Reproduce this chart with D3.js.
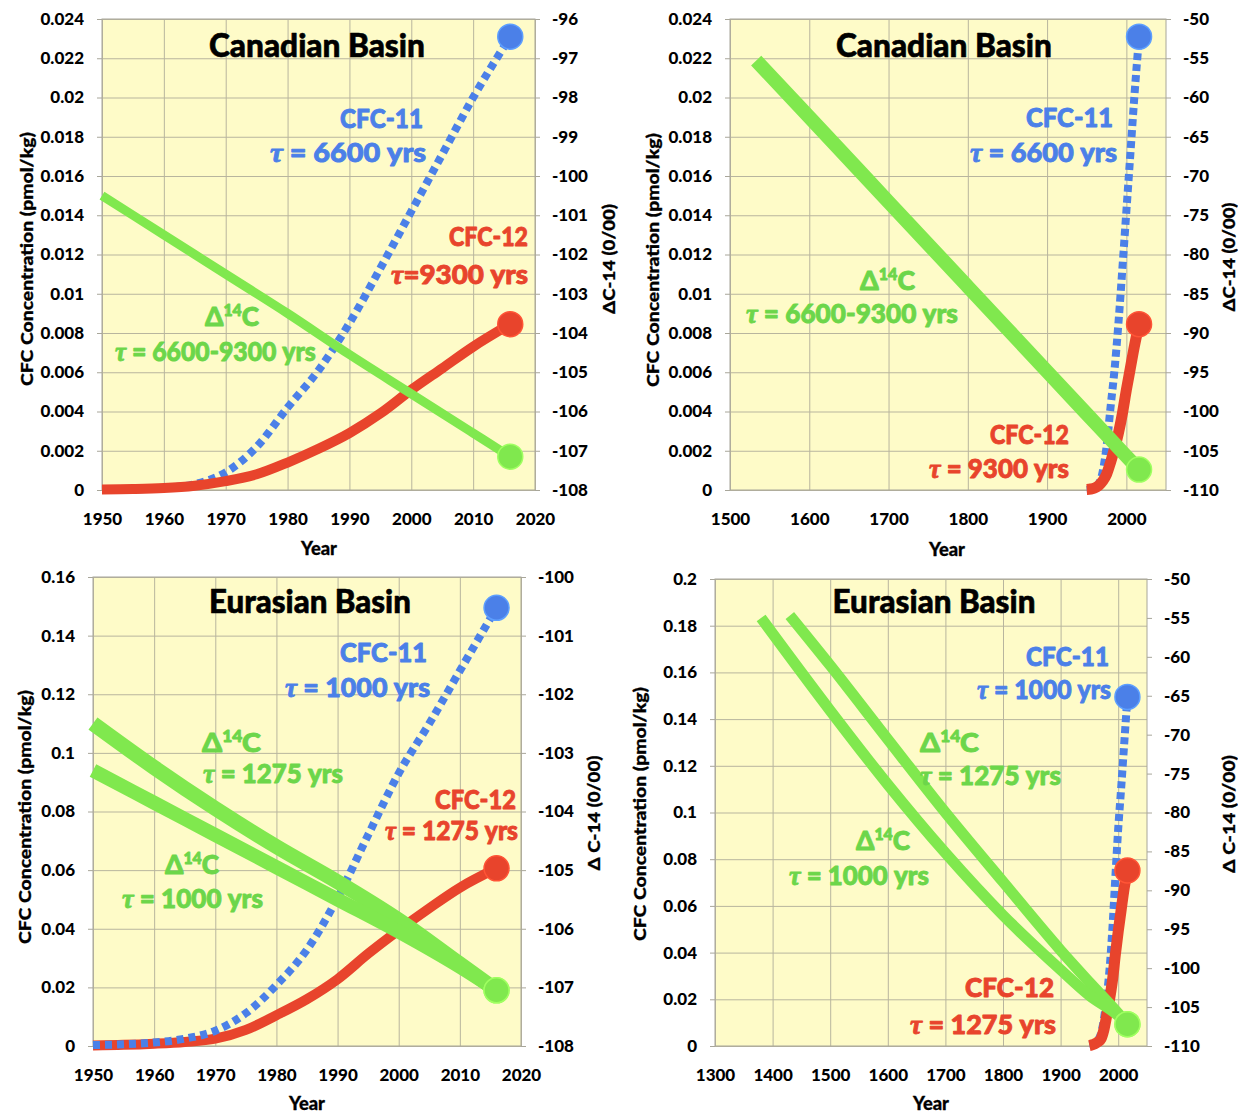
<!DOCTYPE html>
<html>
<head>
<meta charset="utf-8">
<script src="https://cdn.jsdelivr.net/npm/d3@7"></script>
<style>
  body { margin: 0; background: #fff; }
  svg text { font-family: Lato, "Open Sans", "Noto Sans", sans-serif; font-weight: 900; }
</style>
</head>
<body>
<svg id="chart" width="1238" height="1113"></svg>
<script>
// ---- data ----
const cfcYears = [1950, 1955, 1960, 1965, 1970, 1975, 1980, 1985, 1990, 1995, 2000, 2005, 2010, 2016];
const cfc11Canadian = [0, 0.00003, 0.0001, 0.0003, 0.0009, 0.0022, 0.0042, 0.0061, 0.0085, 0.0113, 0.0142, 0.0171, 0.0200, 0.0231];
const cfc12Canadian = [0.00003, 0.00005, 0.0001, 0.00022, 0.00045, 0.0008, 0.0014, 0.0021, 0.0029, 0.0039, 0.0051, 0.0062, 0.0073, 0.00845];
const cfc11Eurasian = [0.0003, 0.0006, 0.0012, 0.0025, 0.0052, 0.0112, 0.0208, 0.0329, 0.0505, 0.072, 0.093, 0.110, 0.128, 0.1495];
const cfc12Eurasian = [0.0002, 0.0004, 0.0008, 0.0014, 0.0025, 0.0055, 0.0105, 0.016, 0.0228, 0.0315, 0.0395, 0.047, 0.054, 0.0606];
const cfc12EurasianLong = [0.0002, 0.0005, 0.001, 0.0018, 0.003, 0.0068, 0.013, 0.02, 0.028, 0.039, 0.049, 0.058, 0.067, 0.0752];

const c14Years = [1950, 1960, 1970, 1980, 1990, 2000, 2010, 2016];
const c14Canadian = [-100.5, -101.5, -102.5, -103.5, -104.55, -105.55, -106.55, -107.15];
const c14Eurasian1275 = [-102.5, -103.25, -103.95, -104.6, -105.2, -105.85, -106.6, -107.05];
const c14Eurasian1000 = [-103.3, -103.85, -104.4, -104.95, -105.5, -106.05, -106.65, -107.05];

const c14YearsCanadianLong = [1533, 1600, 1700, 1800, 1900, 1950, 2000, 2016];
const c14CanadianLong = [-55.3, -62.5, -73.3, -84.1, -94.9, -100.3, -105.7, -107.4];
const c14YearsEur1275Long = [1430, 1500, 1600, 1700, 1800, 1900, 1950, 2000, 2016];
const c14Eur1275Long = [-54.7, -61.1, -70.6, -80.0, -88.9, -97.7, -101.8, -105.8, -107.2];
const c14YearsEur1000Long = [1380, 1500, 1600, 1700, 1800, 1900, 1950, 2000, 2016];
const c14Eur1000Long = [-55.0, -66.9, -76.4, -85.2, -93.2, -100.2, -103.5, -106.1, -107.2];

const BLUE = "#4b80e8", RED = "#e8442c", GREEN = "#80e84e", GREEN_TXT = "#6cd64a";
const tau = s => [{ t: "τ", tau: true }, { t: s }];
const d14c = [{ t: "Δ" }, { t: "14", sup: true }, { t: "C", down: true }];

const panels = [
  {
    box: { left: 102, right: 535, top: 19, bottom: 490 },
    xDomain: [1950, 2020], xTicks: d3.range(1950, 2021, 10),
    yMax: 0.024, yStep: 0.002, yDec: 3, y2Domain: [-108, -96], y2Step: 1,
    title: { text: "Canadian Basin", x: 317, y: 57, w: 216 },
    yTitle: { x: 26, y: 259 }, y2Title: { text: "ΔC-14 (0/00)", x: 608, y: 259, w: 110 },
    xTitle: { x: 319, y: 555 },
    series: [
      { x: cfcYears, y: cfc11Canadian, axis: 1, color: BLUE, width: 8, dash: "7,5" },
      { x: cfcYears, y: cfc12Canadian, axis: 1, color: RED, width: 10 },
      { x: c14Years, y: c14Canadian, axis: 2, color: GREEN, width: 9 }
    ],
    labels: [
      { text: "CFC-11", x: 423, y: 128, anchor: "end", color: BLUE, w: 83 },
      { text: tau(" = 6600 yrs"), x: 426, y: 162, anchor: "end", color: BLUE, w: 156 },
      { text: "CFC-12", x: 528, y: 246, anchor: "end", color: RED, w: 79 },
      { text: tau("=9300 yrs"), x: 528, y: 284, anchor: "end", color: RED, w: 137 },
      { text: d14c, x: 205, y: 326, anchor: "start", color: GREEN_TXT, w: 54 },
      { text: tau(" = 6600-9300 yrs"), x: 115, y: 361, anchor: "start", color: GREEN_TXT, w: 201 }
    ]
  },
  {
    box: { left: 730, right: 1166, top: 19, bottom: 490 },
    xDomain: [1500, 2050], xTicks: d3.range(1500, 2001, 100),
    yMax: 0.024, yStep: 0.002, yDec: 3, y2Domain: [-110, -50], y2Step: 5,
    title: { text: "Canadian Basin", x: 944, y: 57, w: 216 },
    yTitle: { x: 652, y: 260 }, y2Title: { text: "ΔC-14 (0/00)", x: 1228, y: 257, w: 109 },
    xTitle: { x: 947, y: 556 },
    series: [
      { x: cfcYears, y: cfc11Canadian, axis: 1, color: BLUE, width: 8, dash: "7,4" },
      { x: cfcYears, y: cfc12Canadian, axis: 1, color: RED, width: 11 },
      { x: c14YearsCanadianLong, y: c14CanadianLong, axis: 2, color: GREEN, width: 14 }
    ],
    labels: [
      { text: "CFC-11", x: 1113, y: 127, anchor: "end", color: BLUE, w: 87 },
      { text: tau(" = 6600 yrs"), x: 1117, y: 162, anchor: "end", color: BLUE, w: 147 },
      { text: d14c, x: 860, y: 290, anchor: "start", color: GREEN_TXT, w: 55 },
      { text: tau(" = 6600-9300 yrs"), x: 746, y: 323, anchor: "start", color: GREEN_TXT, w: 212 },
      { text: "CFC-12", x: 1069, y: 444, anchor: "end", color: RED, w: 79 },
      { text: tau(" = 9300 yrs"), x: 1069, y: 478, anchor: "end", color: RED, w: 140 }
    ]
  },
  {
    box: { left: 93, right: 521, top: 577, bottom: 1046 },
    xDomain: [1950, 2020], xTicks: d3.range(1950, 2021, 10),
    yMax: 0.16, yStep: 0.02, yDec: 2, y2Domain: [-108, -100], y2Step: 1,
    title: { text: "Eurasian Basin", x: 310, y: 613, w: 202 },
    yTitle: { x: 24, y: 817 }, y2Title: { text: "Δ C-14 (0/00)", x: 593, y: 813, w: 115 },
    xTitle: { x: 307, y: 1110 },
    series: [
      { x: cfcYears, y: cfc12Eurasian, axis: 1, color: RED, width: 10 },
      { x: cfcYears, y: cfc11Eurasian, axis: 1, color: BLUE, width: 8, dash: "7,5" },
      { x: c14Years, y: c14Eurasian1275, axis: 2, color: GREEN, width: 15 },
      { x: c14Years, y: c14Eurasian1000, axis: 2, color: GREEN, width: 14 }
    ],
    labels: [
      { text: "CFC-11", x: 427, y: 662, anchor: "end", color: BLUE, w: 87 },
      { text: tau(" = 1000 yrs"), x: 430, y: 697, anchor: "end", color: BLUE, w: 145 },
      { text: d14c, x: 202, y: 752, anchor: "start", color: GREEN_TXT, w: 59 },
      { text: tau(" = 1275 yrs"), x: 203, y: 783, anchor: "start", color: GREEN_TXT, w: 140 },
      { text: d14c, x: 165, y: 874, anchor: "start", color: GREEN_TXT, w: 54 },
      { text: tau(" = 1000 yrs"), x: 122, y: 908, anchor: "start", color: GREEN_TXT, w: 141 },
      { text: "CFC-12", x: 516, y: 809, anchor: "end", color: RED, w: 81 },
      { text: tau(" = 1275 yrs"), x: 518, y: 840, anchor: "end", color: RED, w: 133 }
    ]
  },
  {
    box: { left: 715, right: 1147, top: 579, bottom: 1046 },
    xDomain: [1300, 2050], xTicks: d3.range(1300, 2001, 100),
    yMax: 0.2, yStep: 0.02, yDec: 2, y2Domain: [-110, -50], y2Step: 5,
    title: { text: "Eurasian Basin", x: 934, y: 613, w: 203 },
    yTitle: { x: 639, y: 814 }, y2Title: { text: "Δ C-14 (0/00)", x: 1228, y: 814, w: 118 },
    xTitle: { x: 931, y: 1110 },
    series: [
      { x: cfcYears, y: cfc11Eurasian, axis: 1, color: BLUE, width: 8, dash: "7,4" },
      { x: cfcYears, y: cfc12EurasianLong, axis: 1, color: RED, width: 11 },
      { x: c14YearsEur1275Long, y: c14Eur1275Long, axis: 2, color: GREEN, width: 11 },
      { x: c14YearsEur1000Long, y: c14Eur1000Long, axis: 2, color: GREEN, width: 11 }
    ],
    labels: [
      { text: "CFC-11", x: 1109, y: 666, anchor: "end", color: BLUE, w: 83 },
      { text: tau(" = 1000 yrs"), x: 1111, y: 699, anchor: "end", color: BLUE, w: 134 },
      { text: d14c, x: 920, y: 752, anchor: "start", color: GREEN_TXT, w: 59 },
      { text: tau(" = 1275 yrs"), x: 920, y: 785, anchor: "start", color: GREEN_TXT, w: 141 },
      { text: d14c, x: 856, y: 850, anchor: "start", color: GREEN_TXT, w: 54 },
      { text: tau(" = 1000 yrs"), x: 789, y: 885, anchor: "start", color: GREEN_TXT, w: 140 },
      { text: "CFC-12", x: 1054, y: 997, anchor: "end", color: RED, w: 89 },
      { text: tau(" = 1275 yrs"), x: 1056, y: 1034, anchor: "end", color: RED, w: 146 }
    ]
  }
];

const svg = d3.select("#chart");

// text with optional τ / superscript parts, squeezed to the measured width of the original
function addText(parent, o) {
  const g = parent.append("g");
  const t = g.append("text")
    .attr("text-anchor", o.anchor || "middle")
    .attr("fill", o.color || "#000")
    .style("font-size", o.size + "px");
  if (o.heavy) t.attr("stroke", o.color || "#000").attr("stroke-width", o.heavy).attr("stroke-linejoin", "round");
  if (o.central) t.attr("dominant-baseline", "central");
  const parts = typeof o.text === "string" ? [{ t: o.text }] : o.text;
  parts.forEach(p => {
    const s = t.append("tspan").text(p.t);
    if (p.tau) s.style("font-family", "'Liberation Serif', 'DejaVu Serif', serif").style("font-style", "italic").style("font-weight", "bold");
    if (p.sup) s.style("font-size", (o.size * 0.6) + "px").attr("dy", -o.size * 0.36);
    if (p.down) s.attr("dy", o.size * 0.36);
  });
  const len = t.node().getComputedTextLength();
  const sx = o.w ? o.w / len : 1;
  g.attr("transform", `translate(${o.x},${o.y})${o.rot ? ` rotate(${o.rot})` : ""} scale(${sx},1)`);
}

panels.forEach(p => {
  const b = p.box;
  const g = svg.append("g");
  const x = d3.scaleLinear().domain(p.xDomain).range([b.left, b.right]);
  const y = d3.scaleLinear().domain([0, p.yMax]).range([b.bottom, b.top]);
  const y2 = d3.scaleLinear().domain(p.y2Domain).range([b.bottom, b.top]);
  const yTicks = d3.range(0, Math.round(p.yMax / p.yStep) + 1).map(i => +(i * p.yStep).toFixed(p.yDec));
  const y2Ticks = d3.range(p.y2Domain[0], p.y2Domain[1] + p.y2Step / 2, p.y2Step);

  g.append("rect")
    .attr("x", b.left).attr("y", b.top)
    .attr("width", b.right - b.left).attr("height", b.bottom - b.top)
    .attr("fill", "#fefbc8");

  // grid
  g.append("g").attr("transform", `translate(${b.left},0)`)
    .call(d3.axisLeft(y).tickValues(yTicks).tickSize(-(b.right - b.left)).tickFormat(""))
    .call(a => a.select(".domain").remove())
    .call(a => a.selectAll("line").attr("stroke", "#b8b59e"));
  g.append("g").attr("transform", `translate(0,${b.bottom})`)
    .call(d3.axisBottom(x).tickValues(p.xTicks).tickSize(-(b.bottom - b.top)).tickFormat(""))
    .call(a => a.select(".domain").remove())
    .call(a => a.selectAll("line").attr("stroke", "#b8b59e"));
  g.append("rect")
    .attr("x", b.left).attr("y", b.top)
    .attr("width", b.right - b.left).attr("height", b.bottom - b.top)
    .attr("fill", "none").attr("stroke", "#a8a69a");

  // axes
  g.append("g").attr("transform", `translate(${b.left},0)`)
    .call(d3.axisLeft(y).tickValues(yTicks).tickSize(5).tickPadding(13).tickFormat(d => String(d)))
    .call(a => a.select(".domain").remove())
    .call(a => a.selectAll("line").attr("stroke", "#a8a69a"))
    .call(a => a.selectAll("text").attr("fill", "#000").style("font-size", "17px"));
  g.append("g").attr("transform", `translate(${b.right},0)`)
    .call(d3.axisRight(y2).tickValues(y2Ticks).tickSize(5).tickPadding(12).tickFormat(d => String(d)))
    .call(a => a.select(".domain").remove())
    .call(a => a.selectAll("line").attr("stroke", "#a8a69a"))
    .call(a => a.selectAll("text").attr("fill", "#000").style("font-size", "17px"));
  g.append("g").attr("transform", `translate(0,${b.bottom})`)
    .call(d3.axisBottom(x).tickValues(p.xTicks).tickSize(0).tickPadding(23).tickFormat(d => String(d)))
    .call(a => a.select(".domain").remove())
    .call(a => a.selectAll("text").attr("fill", "#000").style("font-size", "17px"));

  // series
  p.series.forEach(s => {
    const sy = s.axis === 1 ? y : y2;
    const pts = s.x.map((v, i) => [x(v), sy(s.y[i])]);
    g.append("path")
      .attr("d", d3.line().curve(d3.curveMonotoneX)(pts))
      .attr("fill", "none")
      .attr("stroke", s.color)
      .attr("stroke-width", s.width)
      .attr("stroke-dasharray", s.dash || null)
      .attr("stroke-linejoin", "round");
  });
  p.series.forEach(s => {
    const sy = s.axis === 1 ? y : y2;
    const n = s.x.length - 1;
    g.append("circle")
      .attr("cx", x(s.x[n])).attr("cy", sy(s.y[n])).attr("r", 12.5)
      .attr("fill", s.color)
      .attr("stroke", d3.color(s.color).brighter(0.6)).attr("stroke-width", 1.5);
  });

  // texts
  addText(g, { text: p.title.text, x: p.title.x, y: p.title.y, size: 32, w: p.title.w, heavy: 0.6 });
  p.labels.forEach(l => addText(g, Object.assign({ size: 27, heavy: 0.9 }, l)));
  addText(g, { text: "CFC Concentration (pmol/kg)", x: p.yTitle.x, y: p.yTitle.y, size: 17, w: 254, rot: -90, central: true, heavy: 0.3 });
  addText(g, { text: p.y2Title.text, x: p.y2Title.x, y: p.y2Title.y, size: 17, w: p.y2Title.w, rot: -90, central: true, heavy: 0.3 });
  addText(g, { text: "Year", x: p.xTitle.x, y: p.xTitle.y, size: 18, w: 36, heavy: 0.3 });
});
</script>
</body>
</html>
